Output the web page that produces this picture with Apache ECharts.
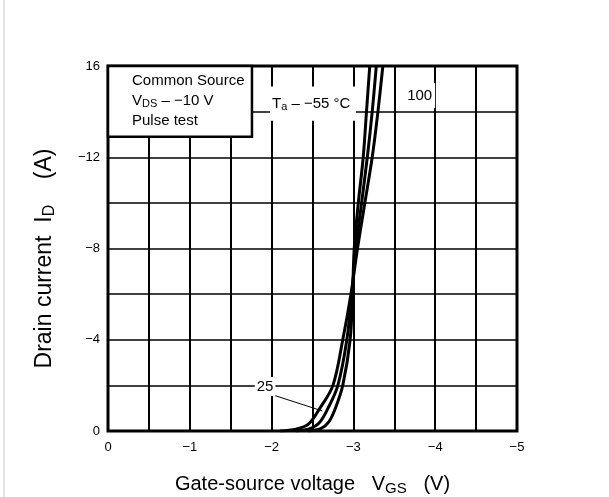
<!DOCTYPE html>
<html>
<head>
<meta charset="utf-8">
<script src="https://cdn.jsdelivr.net/npm/echarts@6/dist/echarts.min.js"></script>
<style>
  html, body { margin: 0; padding: 0; background: #fff; }
  #chart { width: 609px; height: 497px; }
</style>
</head>
<body>
<div id="chart"></div>
<script>
// gate-source voltage (V) vs drain current (A)
const vgsM55 = [-2.45, -2.6, -2.7, -2.78, -2.87, -2.96, -2.99, -3.01, -3.06, -3.12, -3.16, -3.20];
const idM55  = [0, -0.1, -0.4, -1, -2, -4, -6, -8, -10, -12, -14, -16];
const vgs25  = [-2.3, -2.45, -2.58, -2.69, -2.81, -2.92, -2.98, -3.03, -3.10, -3.17, -3.23, -3.28];
const id25   = [0, -0.08, -0.35, -1, -2, -4, -6, -8, -10, -12, -14, -16];
const vgs100 = [-2.1, -2.3, -2.45, -2.59, -2.75, -2.87, -2.97, -3.05, -3.14, -3.23, -3.30, -3.36];
const id100  = [0, -0.08, -0.3, -1, -2, -4, -6, -8, -10, -12, -14, -16];

const xTicks = [0, -1, -2, -3, -4, -5];
const yTicks = [0, -4, -8, -12, -16];

const pair = (xs, ys) => xs.map((x, i) => [x, ys[i]]);
const FONT = '"Liberation Sans", Arial, sans-serif';

const chart = echarts.init(document.getElementById('chart'));

function curve(name, data) {
  return {
    name: name,
    type: 'line',
    data: data,
    smooth: 0.35,
    showSymbol: false,
    lineStyle: { color: '#000', width: 3 },
    z: 5
  };
}

const option = {
  animation: false,
  backgroundColor: '#fff',
  grid: {
    left: 108, right: 92, top: 66, bottom: 66,
    outerBoundsMode: 'none',
    show: true, borderColor: '#000', borderWidth: 3, backgroundColor: 'transparent'
  },
  xAxis: {
    type: 'value',
    min: -5, max: 0, interval: 0.5,
    inverse: true,
    name: '{n|Gate-source voltage   V}{s|GS}{n|   (V)}',
    nameLocation: 'middle',
    nameGap: 41,
    nameTextStyle: {
      rich: {
        n: { fontFamily: FONT, fontSize: 20, color: '#000', lineHeight: 24 },
        s: { fontFamily: FONT, fontSize: 15, color: '#000', lineHeight: 24, padding: [9, 0, 0, 0] }
      }
    },
    axisLine: { show: false },
    axisTick: { show: false },
    axisLabel: {
      fontFamily: FONT, fontSize: 13, color: '#000', margin: 10,
      formatter: v => xTicks.includes(v) ? (v === 0 ? '0' : '\u2212' + Math.abs(v)) : ''
    },
    splitLine: { show: true, lineStyle: { color: '#000', width: 2 } }
  },
  yAxis: {
    type: 'value',
    min: -16, max: 0, interval: 2,
    inverse: true,
    name: '{n|Drain current  I}{s|D}{n|    (A)}',
    nameLocation: 'middle',
    nameGap: 50,
    nameTextStyle: {
      padding: [0, 20, 0, 0],
      rich: {
        n: { fontFamily: FONT, fontSize: 23, color: '#000', lineHeight: 26 },
        s: { fontFamily: FONT, fontSize: 16, color: '#000', lineHeight: 26, padding: [10, 0, 0, 0] }
      }
    },
    axisLine: { show: false },
    axisTick: { show: false },
    axisLabel: {
      fontFamily: FONT, fontSize: 13, color: '#000', margin: 8,
      formatter: v => yTicks.includes(v) ? (v === 0 ? '0' : v === -16 ? '16' : '\u2212' + Math.abs(v)) : ''
    },
    splitLine: { show: true, lineStyle: { color: '#000', width: 1.5 } }
  },
  series: [
    curve('-55', pair(vgsM55, idM55)),
    curve('25', pair(vgs25, id25)),
    curve('100', pair(vgs100, id100)),
    {
      // leader line for the 25 °C label
      type: 'line',
      data: [[-2.0, -1.6], [-2.62, -0.88]],
      showSymbol: false,
      lineStyle: { color: '#000', width: 1 },
      z: 6
    }
  ]
};
chart.setOption(option);

// annotations anchored to data coordinates
const px = (x, y) => chart.convertToPixel({ gridIndex: 0 }, [x, y]);
const boxTL = px(0, -16);
const boxBR = px(-1.76, -12.9);
const taTL = px(-1.98, -15.1);
const taBR = px(-3.03, -13.6);
const p100 = px(-3.81, -14.7);
const p25 = px(-1.92, -1.95);

const txt = { fontFamily: FONT, fontSize: 15, fill: '#000' };
const richSub = {
  n: { fontFamily: FONT, fontSize: 15, lineHeight: 18 },
  s: { fontFamily: FONT, fontSize: 11, lineHeight: 18, padding: [6, 0, 0, 0] }
};

chart.setOption({
  graphic: [
    { type: 'line', shape: { x1: 4, y1: 0, x2: 4, y2: 497 }, style: { stroke: '#c8c8c8', lineWidth: 1 } },
    {
      type: 'rect', z: 10,
      shape: { x: boxTL[0], y: boxTL[1], width: boxBR[0] - boxTL[0], height: boxBR[1] - boxTL[1] },
      style: { fill: '#fff', stroke: '#000', lineWidth: 2.5 }
    },
    { type: 'text', z: 11, x: boxTL[0] + 24, y: boxTL[1] + 15, style: Object.assign({ text: 'Common Source', verticalAlign: 'middle' }, txt) },
    {
      type: 'text', z: 11, x: boxTL[0] + 24, y: boxTL[1] + 35,
      style: { text: '{n|V}{s|DS}{n| \u2013 \u221210 V}', rich: richSub, fill: '#000', verticalAlign: 'middle' }
    },
    { type: 'text', z: 11, x: boxTL[0] + 24, y: boxTL[1] + 55, style: Object.assign({ text: 'Pulse test', verticalAlign: 'middle' }, txt) },
    {
      type: 'rect', z: 10,
      shape: { x: taTL[0], y: taTL[1], width: taBR[0] - taTL[0], height: taBR[1] - taTL[1] },
      style: { fill: '#fff', stroke: null }
    },
    {
      type: 'text', z: 11, x: taTL[0] + 2, y: (taTL[1] + taBR[1]) / 2,
      style: { text: '{n|T}{s|a}{n| \u2013 \u221255 \u00b0C}', rich: richSub, fill: '#000', verticalAlign: 'middle' }
    },
    {
      type: 'text', z: 11, x: p100[0], y: p100[1],
      style: Object.assign({ text: '100', align: 'center', verticalAlign: 'middle', backgroundColor: '#fff', padding: [5, 3] }, txt)
    },
    {
      type: 'text', z: 11, x: p25[0], y: p25[1],
      style: Object.assign({ text: '25', align: 'center', verticalAlign: 'middle', backgroundColor: '#fff', padding: [2, 2] }, txt)
    }
  ]
});

window.addEventListener('resize', () => chart.resize());
</script>
</body>
</html>
